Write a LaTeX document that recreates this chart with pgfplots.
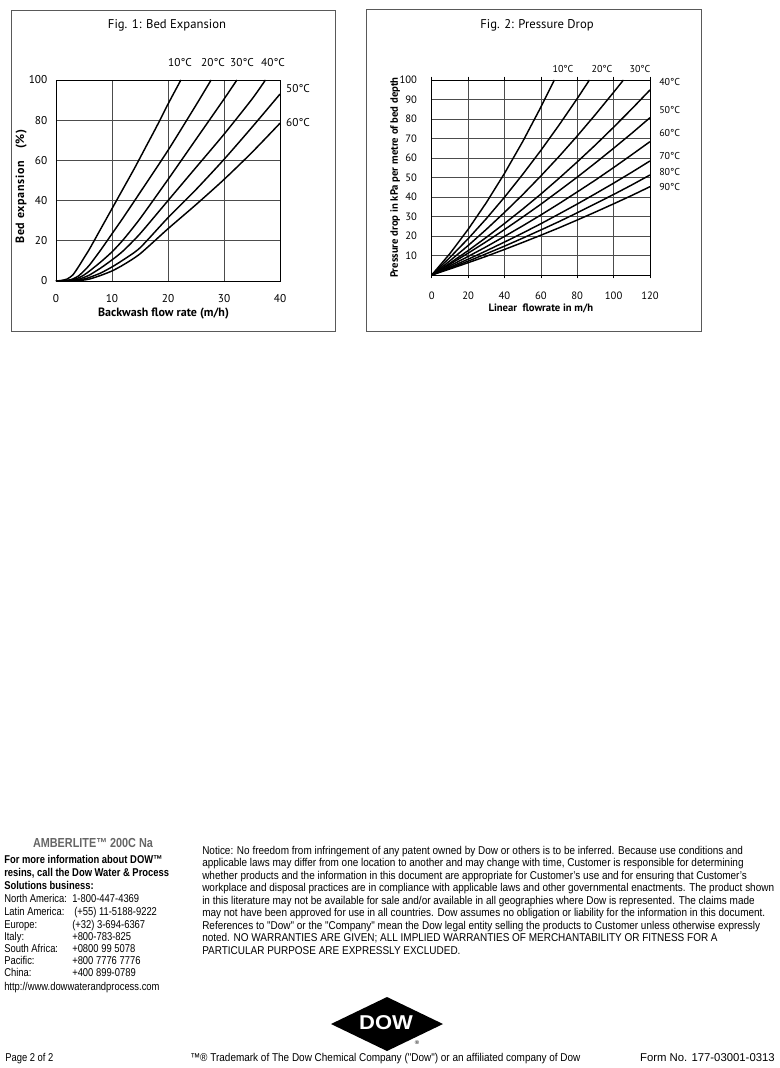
\documentclass[border=0pt]{standalone}
\usepackage{pgfplots}
\pgfplotsset{compat=1.18}
\usepackage{fontspec}
\setmainfont{Liberation Sans}
\newfontfamily\chartfont{PT Sans}
\newfontfamily\narrowfont[FakeStretch=0.83]{Liberation Sans}
\newfontfamily\noticefont[FakeStretch=0.88]{Liberation Sans}
\newfontfamily\logofont[FakeStretch=1.1]{Liberation Sans}
\newcommand\tk{\chartfont\fontsize{8.5}{10}\selectfont}
\newcommand\nf{\narrowfont\fontsize{8.5}{10}\selectfont}
\newcommand\ntf{\noticefont\fontsize{8.5}{10}\selectfont}
\pgfplotsset{curve/.style={black, line width=1.1pt, no markers, solid}}
\begin{document}
\begin{tikzpicture}
\path[use as bounding box, fill=white] (0,0) rectangle (585pt,-801pt);
% ---------- Fig 1 ----------
\begin{axis}[at={(42pt,-210.75pt)}, anchor=south west, scale only axis,
  width=168pt, height=150.75pt,
  xmin=0, xmax=40, ymin=0, ymax=100,
  xtick={0,10,...,40}, ytick={0,20,...,100},
  grid=major, grid style={black!70, line width=0.5pt},
  axis line style={black, line width=0.6pt},
  tick style={draw=none},
  /pgf/number format/assume math mode=true,
  tick label style={font=\tk},
  xticklabel style={yshift=-6.5pt},
  yticklabel style={xshift=-3pt},
  xlabel={\bfseries Backwash flow rate (m/h)},
  ylabel={\bfseries\addfontfeature{LetterSpace=6}Bed expansion\quad(\%)},
  label style={font=\chartfont\fontsize{9}{10}\selectfont},
  xlabel style={at={(axis description cs:0.48,-0.162)}, anchor=center},
  ylabel style={at={(axis description cs:-0.155,0.47)}, anchor=center},
  clip=false]
\addplot[curve, smooth, tension=0.4] coordinates {(0,0)(1,0.3)(2,1)(3,3)(4,7)(5,11.5)(6,16)(8,26)(10,36)(12,46)(14,56)(16,66.5)(18,77)(20,88)(22.3,100)};
\addplot[curve, smooth, tension=0.4] coordinates {(0,0)(2,0.3)(3,1)(4,2.5)(5,5)(6,8)(8,15.5)(10,23.5)(12,31.5)(15,44)(20,65)(25,87.5)(27.7,100)};
\addplot[curve, smooth, tension=0.4] coordinates {(0,0)(2,0.2)(3,0.6)(4,1.5)(5,3)(6,5)(8,9.5)(10,14.5)(12,20.5)(15,31)(20,50.5)(25,70.5)(30,90.5)(32.3,100)};
\addplot[curve, smooth, tension=0.4] coordinates {(0,0)(3,0.3)(4,0.8)(5,1.8)(6,3)(8,6.5)(10,10.5)(12,15)(15,23.5)(20,40)(25,56.5)(30,73)(35,90.5)(37.4,100)};
\addplot[curve, smooth, tension=0.4] coordinates {(0,0)(3,0.2)(5,1)(6,1.8)(8,4)(10,7)(12,10.5)(15,16.5)(20,31.5)(25,45.5)(30,60.5)(35,76.5)(40,93)};
\addplot[curve, smooth, tension=0.4] coordinates {(0,0)(4,0.2)(6,1)(8,2.8)(10,5)(12,8)(15,13.5)(20,26)(25,38)(30,50.5)(35,64)(40,78.5)};
\end{axis}
% ---------- Fig 2 ----------
\begin{axis}[at={(323.8pt,-206.25pt)}, anchor=south west, scale only axis,
  width=163.7pt, height=146.25pt,
  xmin=0, xmax=120, ymin=0, ymax=100,
  xtick={0,20,...,120}, ytick={10,20,...,100},
  grid=major, grid style={black!70, line width=0.5pt},
  axis line style={black, line width=0.6pt},
  ytick style={draw=none},
  xtick style={draw=black, line width=0.5pt},
  tick align=outside, major tick length=2.5pt,
  /pgf/number format/assume math mode=true,
  tick label style={font=\chartfont\fontsize{8}{10}\selectfont},
  xticklabel style={yshift=-7pt},
  yticklabel style={xshift=-5pt},
  xlabel={\bfseries Linear\ \ flowrate in m/h},
  ylabel={\bfseries Pressure drop in kPa per metre of bed depth},
  label style={font=\chartfont\fontsize{8}{10}\selectfont},
  xlabel style={at={(axis description cs:0.5,-0.172)}, anchor=center},
  ylabel style={at={(axis description cs:-0.168,0.5)}, anchor=center},
  clip=false]
\addplot[curve] coordinates {(0,0)(10,11.0)(20,23.4)(30,37.1)(40,52.1)(50,68.4)(60,86.1)(67.4,100)};
\addplot[curve] coordinates {(0,0)(10,9.0)(20,18.6)(30,28.9)(40,39.9)(50,51.6)(60,63.9)(70,76.9)(80,90.5)(86.7,100)};
\addplot[curve] coordinates {(0,0)(10,7.3)(20,15.1)(30,23.4)(40,32.1)(50,41.2)(60,50.8)(70,60.8)(80,71.3)(90,82.3)(100,93.7)(105.4,100)};
\addplot[curve] coordinates {(0,0)(10,6.1)(20,12.5)(30,19.3)(40,26.4)(50,33.8)(60,41.5)(70,49.6)(80,58.0)(90,66.7)(100,75.8)(110,85.2)(120,94.9)};
\addplot[curve] coordinates {(0,0)(10,5.5)(20,11.2)(30,17.1)(40,23.3)(50,29.7)(60,36.3)(70,43.2)(80,50.2)(90,57.5)(100,65.0)(110,72.7)(120,80.7)};
\addplot[curve] coordinates {(0,0)(10,4.7)(20,9.5)(30,14.5)(40,19.8)(50,25.2)(60,30.8)(70,36.6)(80,42.6)(90,48.7)(100,55.1)(110,61.7)(120,68.4)};
\addplot[curve] coordinates {(0,0)(10,4.0)(20,8.1)(30,12.4)(40,16.9)(50,21.5)(60,26.3)(70,31.3)(80,36.4)(90,41.7)(100,47.1)(110,52.7)(120,58.5)};
\addplot[curve] coordinates {(0,0)(10,3.5)(20,7.1)(30,10.9)(40,14.8)(50,18.9)(60,23.1)(70,27.4)(80,31.9)(90,36.6)(100,41.3)(110,46.2)(120,51.3)};
\addplot[curve] coordinates {(0,0)(10,3.1)(20,6.3)(30,9.6)(40,13.1)(50,16.7)(60,20.4)(70,24.2)(80,28.2)(90,32.3)(100,36.5)(110,40.8)(120,45.3)};
\end{axis}
% ---------- pixel-unit drawing ----------
\begin{scope}[x=0.75pt, y=-0.75pt]
\draw[black!65, line width=0.6pt] (11,10) rectangle (335,331);
\draw[black!65, line width=0.6pt] (366,9) rectangle (701,331);
\node[font=\chartfont\fontsize{9.5}{11}\selectfont] at (167,25) {Fig. 1: Bed Expansion};
\node[font=\chartfont\fontsize{9.5}{11}\selectfont] at (537,25) {Fig. 2: Pressure Drop};
\begin{scope}[every node/.style={font=\tk, inner sep=0pt}]
\node at (180,63) {10°C};
\node at (213,63) {20°C};
\node at (242,63) {30°C};
\node at (273,63) {40°C};
\node at (298,89) {50°C};
\node at (298,123) {60°C};
\end{scope}
\begin{scope}[every node/.style={font=\chartfont\fontsize{7.5}{9}\selectfont, inner sep=0pt}]
\node at (563,69) {10°C};
\node at (602,69) {20°C};
\node at (640,69) {30°C};
\node[anchor=west] at (659,82) {40°C};
\node[anchor=west] at (659,110) {50°C};
\node[anchor=west] at (659,133) {60°C};
\node[anchor=west] at (659,156) {70°C};
\node[anchor=west] at (659,172) {80°C};
\node[anchor=west] at (659,187) {90°C};
\end{scope}
% ---------- footer ----------
\node[font=\narrowfont\bfseries\fontsize{9.8}{11}\selectfont, text=black!60, inner sep=0pt, anchor=base] at (93,847.5) {AMBERLITE™ 200C Na};
\begin{scope}[every node/.style={font=\nf, inner sep=0pt, anchor=base west}]
\node[font=\nf\bfseries] at (4,863.3) {For more information about DOW™};
\node[font=\nf\bfseries] at (4,876.7) {resins, call the Dow Water \& Process};
\node[font=\nf\bfseries] at (4,889.3) {Solutions business:};
\node at (4,902.3) {North America:};  \node at (72,902.3) {1-800-447-4369};
\node at (4,915) {Latin America:};    \node at (74,915) {(+55) 11-5188-9222};
\node at (4,928) {Europe:};           \node at (72,928) {(+32) 3-694-6367};
\node at (4,940.7) {Italy:};          \node at (72,940.7) {+800-783-825};
\node at (4,952.7) {South Africa:};   \node at (72,952.7) {+0800 99 5078};
\node at (4,964.7) {Pacific:};        \node at (72,964.7) {+800 7776 7776};
\node at (4,976.7) {China:};          \node at (72,976.7) {+400 899-0789};
\node at (4,990) {http://www.dowwaterandprocess.com};
\node at (5,1061) {Page 2 of 2};
\end{scope}
\begin{scope}[every node/.style={font=\ntf, inner sep=0pt, anchor=base west}]
\node at (202,854) {Notice: No freedom from infringement of any patent owned by Dow or others is to be inferred. Because use conditions and};
\node at (202,866.5) {applicable laws may differ from one location to another and may change with time, Customer is responsible for determining};
\node at (202,879) {whether products and the information in this document are appropriate for Customer’s use and for ensuring that Customer’s};
\node at (202,891.3) {workplace and disposal practices are in compliance with applicable laws and other governmental enactments. The product shown};
\node at (202,904) {in this literature may not be available for sale and/or available in all geographies where Dow is represented. The claims made};
\node at (202,916.3) {may not have been approved for use in all countries. Dow assumes no obligation or liability for the information in this document.};
\node at (202,929) {References to "Dow" or the "Company" mean the Dow legal entity selling the products to Customer unless otherwise expressly};
\node at (202,941.7) {noted. NO WARRANTIES ARE GIVEN; ALL IMPLIED WARRANTIES OF MERCHANTABILITY OR FITNESS FOR A};
\node at (202,954) {PARTICULAR PURPOSE ARE EXPRESSLY EXCLUDED.};
\node at (190,1061) {™® Trademark of The Dow Chemical Company ("Dow") or an affiliated company of Dow};
\node[font=\rmfamily\fontsize{8.5}{10}\selectfont, anchor=base east] at (775,1061) {Form No. 177-03001-0313};
\end{scope}
\fill[black] (331,1024) -- (387,997) -- (443,1024) -- (387,1051) -- cycle;
\node[font=\logofont\bfseries\fontsize{15}{16}\selectfont, text=white, inner sep=0pt] at (386,1023) {DOW};
\node[font=\logofont\fontsize{4}{5}\selectfont, inner sep=0pt] at (417,1043) {®};
\end{scope}
\end{tikzpicture}
\end{document}
